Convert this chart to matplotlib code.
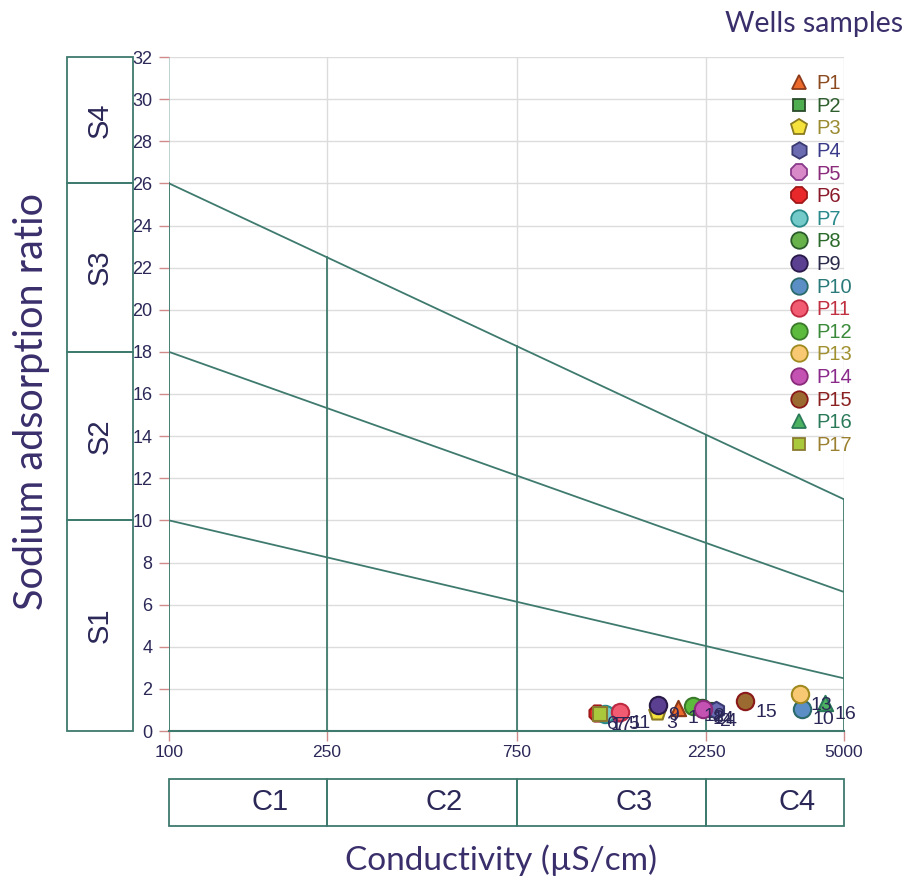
import numpy as np
import matplotlib
matplotlib.use('Agg')
import matplotlib.pyplot as plt
from matplotlib.lines import Line2D
from matplotlib.patches import Rectangle

"""
Diagrama de Wilcox / USSL: SAR frente a conductividad, 17 pozos.
"""

# Datos de los pozos (conductividad en uS/cm, SAR)
samples = ['P1', 'P2', 'P3', 'P4', 'P5', 'P6', 'P7', 'P8', 'P9', 'P10',
           'P11', 'P12', 'P13', 'P14', 'P15', 'P16', 'P17']
ec = [1906, 2300, 1690, 2380, 1350, 1197, 1254, 2200, 1704, 3927,
      1368, 2090, 3883, 2202, 2825, 4467, 1218]
sar = [1.1, 1.0, 0.9, 1.0, 0.85, 0.85, 0.8, 1.1, 1.25, 1.05,
       0.9, 1.2, 1.75, 1.05, 1.42, 1.33, 0.8]

# Estilos de marcador
markers = ['^', 's', 'p', 'h', '8', '8', 'o', 'o', 'o', 'o',
           'o', 'o', 'o', 'o', 'o', '^', 's']
face = ['#ec6a2c', '#4fae4f', '#f6e23c', '#6b6bb2', '#d88ac8', '#e8282a',
        '#74c9c9', '#68b24c', '#5b3f91', '#5c8ec6', '#f25c72', '#5cba3c',
        '#f8c872', '#c352b2', '#9b6a30', '#4cb262', '#aac83c']
edge = ['#8b3a1a', '#2a4a2a', '#8a7a20', '#3a3a72', '#8a3a8a', '#a01818',
        '#2a8a8a', '#2a5a2a', '#2a1a4a', '#2a6a6a', '#c02a40', '#3a7a2a',
        '#a08a20', '#8a2a7a', '#8a1a1a', '#2a7a5a', '#8a7a30']
txt_col = ['#8b4a20', '#2e5e2e', '#9a8a30', '#3a3a8a', '#8a2a7a', '#8a1a2a',
           '#2a8a8a', '#2a6a2a', '#2a2a4a', '#2a7a7a', '#c03040', '#3a8a3a',
           '#a09030', '#8a2a8a', '#8a2020', '#2a7a5a', '#9a8030']

# Lineas de clase de sodio (SAR en EC=100 y EC=5000)
ec_ends = [100, 5000]
s_lines = [[26, 11], [18, 6.6], [10, 2.5]]
c_bounds = [100, 250, 750, 2250, 5000]
c_labels = ['C1', 'C2', 'C3', 'C4']
s_bounds = [0, 10, 18, 26, 32]
s_labels = ['S1', 'S2', 'S3', 'S4']

GREEN = '#3f7a6e'
NAVY = '#2b2858'
INDIGO = '#3a2f6b'
TICKRED = '#d08a8a'

# tamano de marcador (pt) segun forma
msize = {'o': 12.5, '8': 12.5, 'h': 12.5, 'p': 12.5, '^': 11, 's': 9.5}

plt.rcParams['font.family'] = ['Liberation Sans', 'DejaVu Sans']

fig = plt.figure(figsize=(9.13, 8.84), dpi=100)
ax = fig.add_axes([169 / 913, 1 - 731 / 884, 675 / 913, 674 / 884])
ax.set_xscale('log')
ax.set_xlim(100, 5000)
ax.set_ylim(0, 32)
for s in ax.spines.values():
    s.set_visible(False)

# Rejilla
ax.set_yticks(np.arange(0, 33, 2))
ax.set_xticks(c_bounds)
ax.set_xticklabels([str(v) for v in c_bounds])
ax.xaxis.set_minor_locator(matplotlib.ticker.NullLocator())
for yv in np.arange(2, 33, 2):
    ax.axhline(yv, color='#dcdcdc', lw=1, zorder=0)
for xv in c_bounds[1:]:
    ax.axvline(xv, color='#dcdcdc', lw=1, zorder=0)
ax.axvline(100, color='#b0cccc', lw=1.2, zorder=0)
ax.tick_params(axis='both', colors=TICKRED, length=7, width=1,
               labelcolor=NAVY, labelsize=13, pad=5)
ax.tick_params(axis='x', labelsize=12.5, pad=3)

# Lineas de clasificacion
lx = np.log10(ec_ends)
for ys in s_lines:
    ax.plot(ec_ends, ys, color=GREEN, lw=1.3, zorder=2)
top = s_lines[0]
for xv in c_bounds:
    ytop = np.interp(np.log10(xv), lx, top)
    ax.plot([xv, xv], [0, ytop], color=GREEN, lw=1.3, zorder=2)
ax.plot(ec_ends, [0, 0], color=GREEN, lw=1.5, zorder=2, clip_on=False)

# Puntos
for i in range(len(samples)):
    ax.scatter(ec[i], sar[i], marker=markers[i], s=msize[markers[i]] ** 2,
               c=face[i], edgecolors=edge[i], linewidths=1.5, zorder=5)
    ax.annotate(samples[i][1:], (ec[i], sar[i]), xytext=(7, -8),
                textcoords='offset points', ha='left', va='center',
                fontsize=14, color=NAVY, zorder=6)

# Cajas S
axs = fig.add_axes([67 / 913, 1 - 731 / 884, 66 / 913, 674 / 884], sharey=ax)
axs.set_xlim(0, 1)
axs.axis('off')
for k in range(4):
    axs.add_patch(Rectangle((0, s_bounds[k]), 1, s_bounds[k + 1] - s_bounds[k],
                            fill=False, ec=GREEN, lw=1.3, clip_on=False))
    axs.text(0.5, (s_bounds[k] + s_bounds[k + 1]) / 2, s_labels[k], rotation=90,
             ha='center', va='center', fontsize=21, color=NAVY)
ax.set_ylim(0, 32)

# Cajas C
axc = fig.add_axes([169 / 913, 1 - 826 / 884, 675 / 913, 47 / 884])
axc.set_xscale('log')
axc.set_xlim(100, 5000)
axc.set_ylim(0, 1)
axc.axis('off')
for k in range(4):
    axc.add_patch(Rectangle((c_bounds[k], 0), c_bounds[k + 1] - c_bounds[k], 1,
                            fill=False, ec=GREEN, lw=1.3, clip_on=False))
    xc = np.sqrt(c_bounds[k] * c_bounds[k + 1])
    axc.annotate(c_labels[k], (xc, 0.5), xytext=(16, 0), textcoords='offset points',
                 ha='center', va='center', fontsize=21, color=NAVY)

# Titulos de ejes
fig.text(32 / 913, 1 - 402 / 884, 'Sodium adsorption ratio', rotation=90,
         ha='center', va='center', fontsize=28.5, color=INDIGO, family=['Lato'])
fig.text(501 / 913, 1 - 860 / 884, 'Conductivity (µS/cm)',
         ha='center', va='center', fontsize=24, color=INDIGO, family=['Lato'])

# Leyenda
handles = [Line2D([], [], marker=markers[i], ls='none',
                  markersize=msize[markers[i]] * 0.95,
                  markerfacecolor=face[i], markeredgecolor=edge[i],
                  markeredgewidth=1.3) for i in range(len(samples))]
fig.legend(handles, samples, loc='upper left', bbox_to_anchor=(789 / 913, 1 - 74 / 884),
           frameon=False, fontsize=14.5, handlelength=1, handletextpad=0.35,
           labelspacing=0.18, borderpad=0, borderaxespad=0, labelcolor=txt_col)
fig.text(903 / 913, 1 - 24 / 884, 'Wells samples', ha='right', va='center',
         fontsize=20.5, color=INDIGO, family=['Lato'])

fig.savefig('out.png', dpi=100)
